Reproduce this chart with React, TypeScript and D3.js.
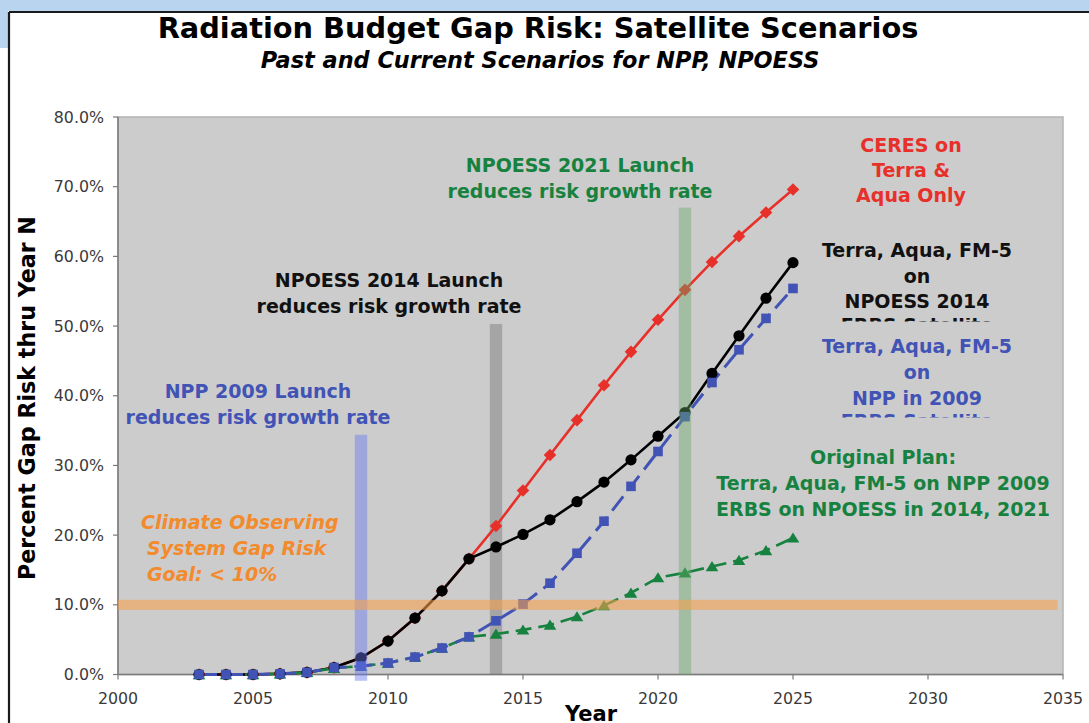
import React from "react";
import * as d3 from "d3";

// ---------- data ----------
const YEARS = [2003, 2004, 2005, 2006, 2007, 2008, 2009, 2010, 2011, 2012, 2013, 2014, 2015, 2016, 2017, 2018, 2019, 2020, 2021, 2022, 2023, 2024, 2025];
const CERES_ONLY = [0, 0, 0, 0.1, 0.3, 1.0, 2.4, 4.8, 8.1, 12.0, 16.6, 21.3, 26.4, 31.5, 36.5, 41.5, 46.3, 50.9, 55.2, 59.2, 62.9, 66.3, 69.6];
const NPOESS_2014 = [0, 0, 0, 0.1, 0.3, 1.0, 2.4, 4.8, 8.1, 12.0, 16.6, 18.3, 20.1, 22.2, 24.8, 27.6, 30.8, 34.2, 37.6, 43.2, 48.6, 54.0, 59.1];
const NPP_2009 = [0, 0, 0, 0.1, 0.3, 1.0, 1.2, 1.65, 2.5, 3.8, 5.4, 7.7, 10.1, 13.1, 17.4, 22.0, 27.0, 32.0, 37.0, 41.9, 46.6, 51.1, 55.4];
const ORIGINAL_PLAN = [0, 0, 0, 0.1, 0.3, 0.9, 1.2, 1.65, 2.5, 3.8, 5.4, 5.8, 6.4, 7.1, 8.3, 9.9, 11.7, 13.9, 14.6, 15.5, 16.4, 17.8, 19.6];

const LAUNCH_YEARS = [2009, 2014, 2021];
const LAUNCH_TOPS = [34.4, 50.3, 67.0];
const GOAL = 10;

const X_TICKS = [2000, 2005, 2010, 2015, 2020, 2025, 2030, 2035];
const Y_TICKS = [0, 10, 20, 30, 40, 50, 60, 70, 80];

const TITLE = "Radiation Budget Gap Risk: Satellite Scenarios";
const SUBTITLE = "Past and Current Scenarios for NPP, NPOESS";
const X_TITLE = "Year";
const Y_TITLE = "Percent Gap Risk thru Year N";

const RED_LABEL = ["CERES on", "Terra &", "Aqua Only"];
const BLACK_LABEL = ["Terra, Aqua, FM-5", "on", "NPOESS 2014"];
const BLUE_LABEL = ["Terra, Aqua, FM-5", "on", "NPP in 2009"];
const GREEN_LABEL = ["Original Plan:", "Terra, Aqua, FM-5 on NPP 2009", "ERBS on NPOESS in 2014, 2021"];
const CLIPPED_LINE = "ERBS Satellite";
const NPP_NOTE = ["NPP 2009 Launch", "reduces risk growth rate"];
const NPOESS14_NOTE = ["NPOESS 2014 Launch", "reduces risk growth rate"];
const NPOESS21_NOTE = ["NPOESS 2021 Launch", "reduces risk growth rate"];
const GOAL_NOTE = ["Climate Observing", "System Gap Risk", "Goal: < 10%"];

const FF = "'DejaVu Sans', Verdana, sans-serif";
const RED = "#e8302a";
const BLACK = "#000000";
const BLUE = "#4153b5";
const GREEN = "#17823f";
const ORANGE = "#f38a2c";

export default function App() {
  const W = 1089;
  const H = 723;
  const x = d3.scaleLinear().domain([2000, 2035]).range([118, 1063]);
  const y = d3.scaleLinear().domain([0, 80]).range([674.5, 117]);

  const lineGen = d3
    .line<number>()
    .x((_, i) => x(YEARS[i]))
    .y((d) => y(d));

  const diamond = (cx: number, cy: number, r: number) =>
    `M${cx},${cy - r}L${cx + r},${cy}L${cx},${cy + r}L${cx - r},${cy}Z`;
  const triangle = (cx: number, cy: number, r: number) =>
    `M${cx},${cy - r}L${cx + r * 1.05},${cy + r * 0.7}L${cx - r * 1.05},${cy + r * 0.7}Z`;

  const multiLine = (
    lines: string[],
    cx: number,
    y0: number,
    dy: number,
    color: string,
    size: number,
    anchor: string = "middle",
    italic = false,
    xs?: number[]
  ) =>
    lines.map((t, i) => (
      <text
        key={t + i}
        x={xs ? xs[i] : cx}
        y={y0 + i * dy}
        fill={color}
        fontFamily={FF}
        fontWeight="bold"
        fontStyle={italic ? "italic" : "normal"}
        fontSize={size}
        textAnchor={anchor as any}
      >
        {t}
      </text>
    ));

  const px0 = x(2000);
  const px1 = x(2035);
  const py0 = y(0);
  const py1 = y(80);
  const halfW = 0.23;

  return (
    <div style={{ position: "absolute", left: 0, top: 0, width: W, height: H, background: "#fff" }}>
      <svg width={W} height={H} style={{ display: "block" }}>
        <defs>
          <clipPath id="clipBlack">
            <rect x={800} y={318} width={260} height={3.6} />
          </clipPath>
          <clipPath id="clipBlue">
            <rect x={800} y={414} width={260} height={3.6} />
          </clipPath>
        </defs>
        <rect x={0} y={0} width={W} height={H} fill="#ffffff" />
        {/* slide decoration */}
        <rect x={0} y={0} width={W} height={11} fill="#b9d4ef" />
        <rect x={0} y={0} width={8} height={48} fill="#b9d4ef" />
        <line x1={9} y1={12} x2={W} y2={12} stroke="#1a1a1a" strokeWidth={2} />
        <line x1={9} y1={12} x2={9} y2={H} stroke="#1a1a1a" strokeWidth={2.2} />

        {/* titles */}
        <text x={538} y={38} textAnchor="middle" fontFamily={FF} fontWeight="bold" fontSize={28.8} fill="#000">
          {TITLE}
        </text>
        <text x={540} y={68} textAnchor="middle" fontFamily={FF} fontWeight="bold" fontStyle="italic" fontSize={22.4} fill="#000">
          {SUBTITLE}
        </text>

        {/* plot area */}
        <rect x={px0} y={py1} width={px1 - px0} height={py0 - py1} fill="#cccccc" stroke="#b4b4b4" strokeWidth={1.5} />

        {/* gray launch band (behind data) */}
        <rect
          x={x(LAUNCH_YEARS[1] - halfW)}
          y={y(LAUNCH_TOPS[1])}
          width={x(LAUNCH_YEARS[1] + halfW) - x(LAUNCH_YEARS[1] - halfW)}
          height={y(0) - y(LAUNCH_TOPS[1])}
          fill="#707070"
          opacity={0.42}
        />

        {/* axes */}
        <line x1={px0} y1={py1} x2={px0} y2={py0} stroke="#7a7a7a" strokeWidth={1.5} />
        <line x1={px0} y1={py0} x2={px1} y2={py0} stroke="#7a7a7a" strokeWidth={1.5} />
        {Y_TICKS.map((t) => (
          <g key={"y" + t}>
            <line x1={px0 - 5} x2={px0} y1={y(t)} y2={y(t)} stroke="#7a7a7a" strokeWidth={1.2} />
            <text x={104} y={y(t) + 5.5} textAnchor="end" fontFamily={FF} fontSize={15.8} fill="#3a3a3a">
              {d3.format(".1f")(t) + "%"}
            </text>
          </g>
        ))}
        {X_TICKS.map((t) => (
          <g key={"x" + t}>
            <line x1={x(t)} x2={x(t)} y1={py0} y2={py0 + 5} stroke="#7a7a7a" strokeWidth={1.2} />
            <text x={x(t)} y={704} textAnchor="middle" fontFamily={FF} fontSize={15.8} fill="#3a3a3a">
              {t}
            </text>
          </g>
        ))}
        <text x={591} y={721} textAnchor="middle" fontFamily={FF} fontWeight="bold" fontSize={21} fill="#000">
          {X_TITLE}
        </text>
        <text
          transform={`translate(35,398) rotate(-90)`}
          textAnchor="middle"
          fontFamily={FF}
          fontWeight="bold"
          fontSize={22.2}
          fill="#000"
        >
          {Y_TITLE}
        </text>

        {/* series lines */}
        <path d={lineGen(CERES_ONLY) || ""} fill="none" stroke={RED} strokeWidth={2.6} />
        <path d={lineGen(NPOESS_2014) || ""} fill="none" stroke={BLACK} strokeWidth={2.6} />
        <path d={lineGen(ORIGINAL_PLAN) || ""} fill="none" stroke={GREEN} strokeWidth={2.6} strokeDasharray="16,7" />
        <path d={lineGen(NPP_2009) || ""} fill="none" stroke={BLUE} strokeWidth={3} strokeDasharray="18,8" />

        {/* markers */}
        {CERES_ONLY.map((v, i) => (
          <path key={"r" + i} d={diamond(x(YEARS[i]), y(v), 6.3)} fill={RED} />
        ))}
        {NPOESS_2014.map((v, i) => (
          <circle key={"k" + i} cx={x(YEARS[i])} cy={y(v)} r={5.6} fill={BLACK} />
        ))}
        {ORIGINAL_PLAN.map((v, i) => (
          <path key={"g" + i} d={triangle(x(YEARS[i]), y(v) + 0.5, 6)} fill={GREEN} />
        ))}
        {NPP_2009.map((v, i) => (
          <rect key={"b" + i} x={x(YEARS[i]) - 4.8} y={y(v) - 4.8} width={9.6} height={9.6} fill={BLUE} />
        ))}

        {/* overlay bands */}
        <rect
          x={x(LAUNCH_YEARS[0] - halfW)}
          y={y(LAUNCH_TOPS[0])}
          width={x(LAUNCH_YEARS[0] + halfW) - x(LAUNCH_YEARS[0] - halfW)}
          height={y(-0.9) - y(LAUNCH_TOPS[0])}
          fill="#6677ee"
          opacity={0.45}
        />
        <rect
          x={x(LAUNCH_YEARS[2] - halfW)}
          y={y(LAUNCH_TOPS[2])}
          width={x(LAUNCH_YEARS[2] + halfW) - x(LAUNCH_YEARS[2] - halfW)}
          height={y(0) - y(LAUNCH_TOPS[2])}
          fill="#6aaa6a"
          opacity={0.42}
        />
        <rect
          x={px0}
          y={y(GOAL + 0.72)}
          width={x(2034.8) - px0}
          height={y(GOAL - 0.72) - y(GOAL + 0.72)}
          fill="#f7a04a"
          opacity={0.58}
        />

        {/* annotations */}
        {multiLine(RED_LABEL, 911, 152, 25, RED, 19)}
        {multiLine(BLACK_LABEL, 917, 257, 25.5, "#111", 19)}
        <g clipPath="url(#clipBlack)">
          <text x={917} y={331.5} textAnchor="middle" fontFamily={FF} fontWeight="bold" fontSize={19} fill="#111">
            {CLIPPED_LINE}
          </text>
        </g>
        {multiLine(BLUE_LABEL, 917, 353, 26, BLUE, 19)}
        <g clipPath="url(#clipBlue)">
          <text x={917} y={427.5} textAnchor="middle" fontFamily={FF} fontWeight="bold" fontSize={19} fill={BLUE}>
            {CLIPPED_LINE}
          </text>
        </g>
        {multiLine(GREEN_LABEL, 883, 464, 26, GREEN, 19)}
        {multiLine(NPOESS21_NOTE, 580, 172, 25.5, GREEN, 19)}
        {multiLine(NPOESS14_NOTE, 389, 287, 25.5, "#111", 19)}
        {multiLine(NPP_NOTE, 258, 398, 26, BLUE, 19)}
        {multiLine(GOAL_NOTE, 0, 529, 26, ORANGE, 19, "start", true, [141, 147, 147])}
      </svg>
    </div>
  );
}
